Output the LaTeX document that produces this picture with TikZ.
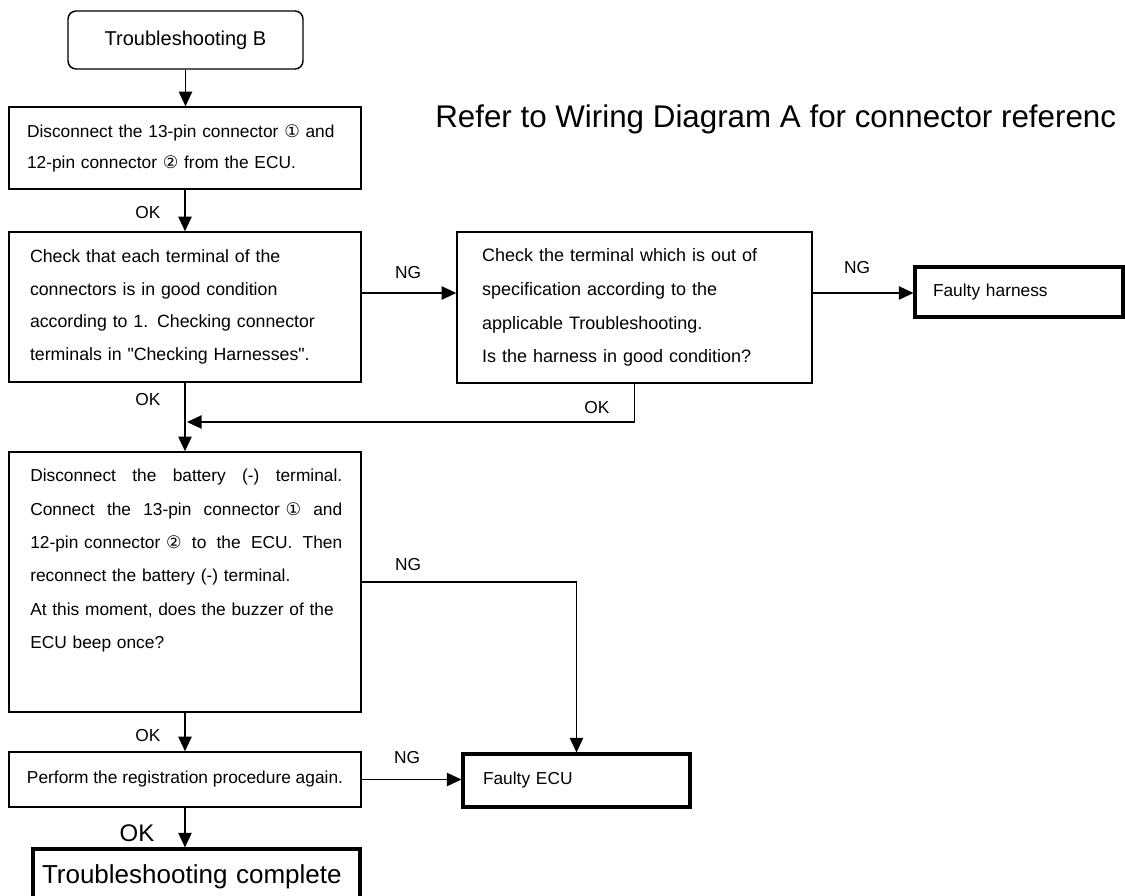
\documentclass[tikz,border=0pt]{standalone}
\usepackage{fontspec}
\setmainfont{Liberation Sans}
\newfontfamily\dejavu{DejaVu Sans}
\usetikzlibrary{arrows.meta,calc}
\newcommand{\jline}[1]{\leavevmode\hbox to 234pt{#1}}
\newcommand{\sq}{\XeTeXglyph\XeTeXcharglyph"22\relax}
\begin{document}
\begin{tikzpicture}[x=0.75pt,y=-0.75pt,
  every node/.style={text=black},
  box/.style={draw=black, line width=1.1pt, inner sep=0pt, align=left,
    font=\fontsize{13}{24.5}\selectfont},
  heavybox/.style={draw=black, line width=2.3pt, inner sep=0pt, align=left,
    font=\fontsize{13}{16}\selectfont},
  lbl/.style={inner sep=0pt, font=\fontsize{13}{15}\selectfont},
  arr/.style={draw=black, line width=1.1pt, -{Triangle[length=11pt,width=10pt]}}]
\useasboundingbox (0,0) rectangle (1125,896);
\clip (0,0) rectangle (1125,896);

% boxes
\node[box, rounded corners=6pt, minimum width=176.25pt, minimum height=43.5pt,
  align=center, font=\fontsize{15}{18}\selectfont] (tsb) at (185.5,40) {Troubleshooting B};

\node[box, minimum width=264pt, minimum height=61.5pt, text width=237pt,
  font=\fontsize{13}{23.25}\selectfont] (b2) at (185,148)
  {Disconnect the 13-pin connector {\dejavu ①} and\\12-pin connector {\dejavu ②} from the ECU.};

\node[box, minimum width=264pt, minimum height=112.5pt, text width=232.5pt,
  font=\fontsize{13.3}{24.5}\selectfont] (b3) at (185,307)
  {Check that each terminal of the\\connectors is in good condition\\according to 1. Checking connector\\terminals in \sq Checking Harnesses\sq.};

\node[box, minimum width=266.25pt, minimum height=113.25pt, text width=228.75pt,
  font=\fontsize{13.5}{25.3}\selectfont] (b4) at (634.5,307.5)
  {Check the terminal which is out of\\specification according to the\\applicable Troubleshooting.\\Is the harness in good condition?};

\node[heavybox, minimum width=156pt, minimum height=37.5pt, text width=129pt] (hrn) at (1019,292)
  {Faulty harness};

\node[box, minimum width=264pt, minimum height=195pt] (b5) at (185,582) {};
\node[inner sep=0pt, anchor=north west, text width=234pt, align=left,
  font=\fontsize{13}{25}\selectfont] (b5t) at (30,469)
  {\jline{Disconnect\hfill the\hfill battery\hfill (-)\hfill terminal.}\\
   \jline{Connect\hfill the\hfill 13-pin\hfill connector {\dejavu ①}\hfill and}\\
   \jline{12-pin connector {\dejavu ②}\hfill to\hfill the\hfill ECU.\hfill Then}\\
   reconnect the battery (-) terminal.\\
   At this moment, does the buzzer of the\\
   ECU beep once?};

\node[box, minimum width=264pt, minimum height=41.25pt, align=center] (b6) at (185,779.5)
  {Perform the registration procedure again.};

\node[heavybox, minimum width=170.25pt, minimum height=39.75pt, text width=140.25pt] (ecu) at (576.5,780.5)
  {Faulty ECU};

\node[heavybox, minimum width=245.25pt, minimum height=41.25pt, text width=231.75pt,
  font=\fontsize{19.5}{22}\selectfont] (tc) at (196.5,876.5)
  {Troubleshooting complete};

\node[inner sep=0pt, anchor=base west, font=\fontsize{23.5}{26}\selectfont] (note) at (435,127)
  {Refer to Wiring Diagram A for connector referenc};

% labels
\node[lbl] (ok1) at (148,213) {OK};
\node[lbl] (ng1) at (408,273) {NG};
\node[lbl] (ng2) at (857,268) {NG};
\node[lbl] (ok2) at (597,408) {OK};
\node[lbl] (ok3) at (148,400) {OK};
\node[lbl] (ng3) at (408,565) {NG};
\node[lbl] (ok4) at (148,736) {OK};
\node[lbl] (ng4) at (407,758) {NG};
\node[lbl, font=\fontsize{18}{20}\selectfont] (ok5) at (137,833) {OK};

% connectors
\coordinate (j) at (187,422);
\coordinate (yng1) at (0,293);
\coordinate (yng3) at (0,582);
\draw[arr] (tsb.south) -- (tsb.south |- b2.north);
\draw[arr] (b2.south) -- (b3.north);
\draw[arr] (b3.east |- yng1) -- (b4.west |- yng1);
\draw[arr] (b4.east |- yng1) -- (hrn.west |- yng1);
\draw[arr] (b4.south) |- (j);
\draw[arr] (b3.south) -- (b5.north);
\draw[arr] (b5.east |- yng3) -| (ecu.north);
\draw[arr] (b5.south) -- (b6.north);
\draw[arr] (b6.east) -- (ecu.west |- b6.east);
\draw[arr] (b6.south) -- (b6.south |- tc.north);
\end{tikzpicture}
\end{document}
